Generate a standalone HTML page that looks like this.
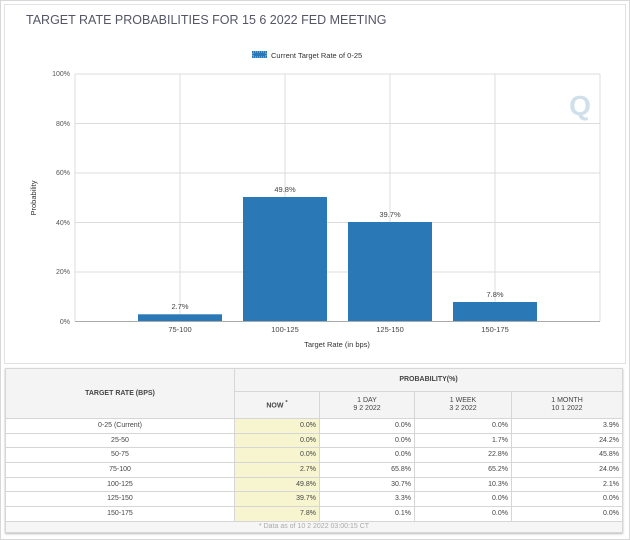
<!DOCTYPE html>
<html><head><meta charset="utf-8"><style>
body{margin:0;width:630px;height:540px;background:#fff;font-family:"Liberation Sans",sans-serif;position:relative;overflow:hidden}
.frame{position:absolute;left:0;top:0;width:628px;height:538px;border:1px solid #d8d8d8}
.panel{position:absolute;left:4px;top:4px;width:620px;height:358px;border:1px solid #e2e2e2}
table{position:absolute;left:5px;top:368px;width:618px;border-collapse:collapse;font-size:7px;color:#444;box-shadow:0 1px 2px #bbb}
td,th{border:1px solid #d6d6d6;padding:0 3px;height:13.7px;line-height:8px}
th{font-weight:normal;background:#f4f4f4;font-size:7px;text-align:center}
td{text-align:right}
td.c{text-align:center}
td.y{background:#f6f5cf}
</style></head><body>
<div class="frame"></div>
<div class="panel"></div>
<svg width="630" height="365" style="position:absolute;left:0;top:0" font-family="Liberation Sans, sans-serif">
<text x="26" y="24" font-size="12.5" fill="#556">TARGET RATE PROBABILITIES FOR 15 6 2022 FED MEETING</text>
<rect x="252" y="51" width="15" height="7" fill="#2a79b6"/>
<rect x="253" y="52" width="13" height="5" fill="none" stroke="#9cc9ee" stroke-dasharray="1,1"/>
<text x="271" y="58" font-size="7.5" fill="#333">Current Target Rate of 0-25</text>
<g stroke="#dcdcdc" stroke-width="1">
<line x1="75" y1="74" x2="600" y2="74"/><line x1="75" y1="123.5" x2="600" y2="123.5"/>
<line x1="75" y1="173" x2="600" y2="173"/><line x1="75" y1="222.5" x2="600" y2="222.5"/>
<line x1="75" y1="272" x2="600" y2="272"/>
<line x1="75" y1="74" x2="75" y2="321"/><line x1="180" y1="74" x2="180" y2="321"/>
<line x1="285" y1="74" x2="285" y2="321"/><line x1="390" y1="74" x2="390" y2="321"/>
<line x1="495" y1="74" x2="495" y2="321"/><line x1="600" y1="74" x2="600" y2="321"/>
</g>
<line x1="75" y1="321.5" x2="600" y2="321.5" stroke="#aaa"/>
<g font-size="7" fill="#555" text-anchor="end">
<text x="70" y="76">100%</text><text x="70" y="126">80%</text><text x="70" y="175">60%</text>
<text x="70" y="225">40%</text><text x="70" y="274">20%</text><text x="70" y="324">0%</text>
</g>
<text x="36" y="198" font-size="7.5" fill="#333" transform="rotate(-90 36 198)" text-anchor="middle">Probability</text>
<text x="580" y="115" font-size="28" font-weight="bold" fill="#cfe0ea" text-anchor="middle">Q</text>
<g fill="#2a79b6">
<rect x="138" y="314.3" width="84" height="6.7"/>
<rect x="243" y="197" width="84" height="124"/>
<rect x="348" y="222" width="84" height="99"/>
<rect x="453" y="302" width="84" height="19"/>
</g>
<g font-size="7.5" fill="#444" text-anchor="middle">
<text x="180" y="309">2.7%</text><text x="285" y="192">49.8%</text>
<text x="390" y="217">39.7%</text><text x="495" y="297">7.8%</text>
<text x="180" y="332">75-100</text><text x="285" y="332">100-125</text>
<text x="390" y="332">125-150</text><text x="495" y="332">150-175</text>
<text x="337" y="347" fill="#333">Target Rate (in bps)</text>
</g>
</svg>
<table>
<tr><th rowspan="2" style="width:222px;font-weight:bold;height:49px">TARGET RATE (BPS)</th><th colspan="4" style="font-weight:bold;height:22px">PROBABILITY(%)</th></tr>
<tr><th style="width:78px;font-weight:bold;height:26px">NOW <sup>*</sup></th><th style="width:88px">1 DAY<br>9 2 2022</th><th style="width:90px">1 WEEK<br>3 2 2022</th><th>1 MONTH<br>10 1 2022</th></tr>
<tr><td class="c">0-25 (Current)</td><td class="y">0.0%</td><td>0.0%</td><td>0.0%</td><td>3.9%</td></tr>
<tr><td class="c">25-50</td><td class="y">0.0%</td><td>0.0%</td><td>1.7%</td><td>24.2%</td></tr>
<tr><td class="c">50-75</td><td class="y">0.0%</td><td>0.0%</td><td>22.8%</td><td>45.8%</td></tr>
<tr><td class="c">75-100</td><td class="y">2.7%</td><td>65.8%</td><td>65.2%</td><td>24.0%</td></tr>
<tr><td class="c">100-125</td><td class="y">49.8%</td><td>30.7%</td><td>10.3%</td><td>2.1%</td></tr>
<tr><td class="c">125-150</td><td class="y">39.7%</td><td>3.3%</td><td>0.0%</td><td>0.0%</td></tr>
<tr><td class="c">150-175</td><td class="y">7.8%</td><td>0.1%</td><td>0.0%</td><td>0.0%</td></tr>
<tr><td colspan="5" class="c" style="color:#aaa;background:#f6f6f6;height:10px">* Data as of 10 2 2022 03:00:15 CT</td></tr>
</table>
</body></html>
